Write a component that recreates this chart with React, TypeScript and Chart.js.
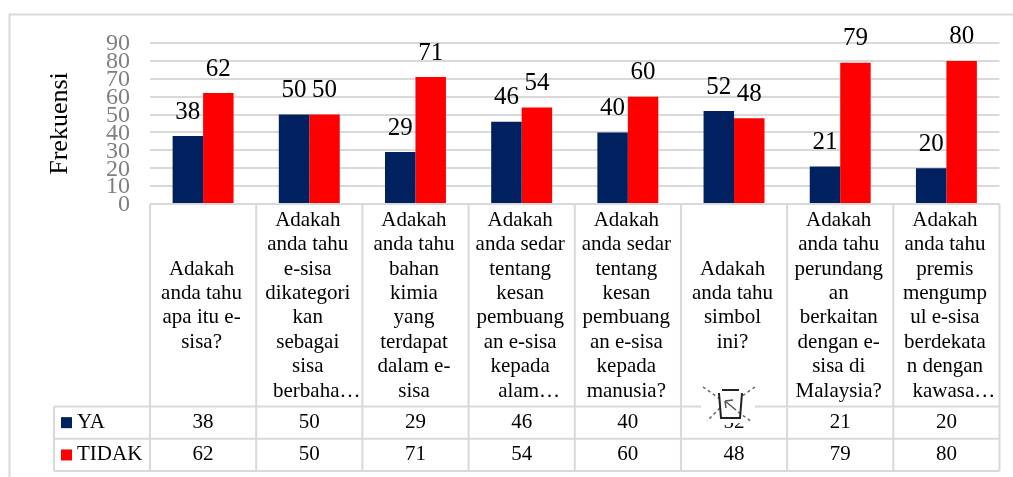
import React, { useEffect, useRef } from "react";
import { Chart, registerables } from "chart.js";

Chart.register(...registerables);

const categoryLines: string[][] = [
  ["Adakah", "anda tahu", "apa itu e-", "sisa?"],
  ["Adakah", "anda tahu", "e-sisa", "dikategori", "kan", "sebagai", "sisa", "berbaha…"],
  ["Adakah", "anda tahu", "bahan", "kimia", "yang", "terdapat", "dalam e-", "sisa"],
  ["Adakah", "anda sedar", "tentang", "kesan", "pembuang", "an e-sisa", "kepada", "alam…"],
  ["Adakah", "anda sedar", "tentang", "kesan", "pembuang", "an e-sisa", "kepada", "manusia?"],
  ["Adakah", "anda tahu", "simbol", "ini?"],
  ["Adakah", "anda tahu", "perundang", "an", "berkaitan", "dengan e-", "sisa di", "Malaysia?"],
  ["Adakah", "anda tahu", "premis", "mengump", "ul e-sisa", "berdekata", "n dengan", "kawasa…"],
];
const categories = categoryLines.map((l) => l.join(" "));
const ya = [38, 50, 29, 46, 40, 52, 21, 20];
const tidak = [62, 50, 71, 54, 60, 48, 79, 80];
const seriesNames = ["YA", "TIDAK"];
const seriesColors = ["#002060", "#FF0000"];
const yAxisTitle = "Frekuensi";

const SERIF = '"Liberation Serif", serif';
const GRID = "#d9d9d9";

const tickShiftPlugin = {
  id: "tickShift",
  beforeDraw(chart: any) {
    const s = chart.scales.y;
    if (s.__shifted) return;
    s.getLabelItems().forEach((it: any) => {
      it.options.translation[1] += 1;
    });
    s.__shifted = true;
  },
};

const tablePlugin = {
  id: "dataTable",
  afterDraw(chart: any) {
    const { ctx, chartArea, scales } = chart;
    const colW = scales.x.width / categories.length;
    const left = chartArea.left;
    const right = chartArea.right;
    const axisY = chartArea.bottom;
    const rowTop = 406.5;
    const rowH = 32.3;
    const tableLeft = 54;
    const tableBottom = rowTop + rowH * 2;

    ctx.save();
    // outer frame (cut off at the right and bottom of the picture)
    ctx.strokeStyle = GRID;
    ctx.lineWidth = 2;
    ctx.beginPath();
    ctx.moveTo(9.5, 477);
    ctx.lineTo(9.5, 14.5);
    ctx.lineTo(1013, 14.5);
    ctx.stroke();

    // table grid
    ctx.beginPath();
    for (let i = 0; i <= categories.length; i++) {
      const x = left + colW * i;
      ctx.moveTo(x, axisY);
      ctx.lineTo(x, tableBottom);
    }
    ctx.moveTo(left, axisY);
    ctx.lineTo(right, axisY);
    for (let r = 0; r <= 2; r++) {
      const y = rowTop + rowH * r;
      ctx.moveTo(tableLeft, y);
      ctx.lineTo(right, y);
    }
    ctx.moveTo(tableLeft, rowTop);
    ctx.lineTo(tableLeft, tableBottom);
    ctx.stroke();

    // category text
    ctx.fillStyle = "#000";
    ctx.textAlign = "center";
    ctx.textBaseline = "middle";
    ctx.font = `21px ${SERIF}`;
    const lh = 24.4;
    const midY = (axisY + rowTop) / 2 + 0.5;
    categoryLines.forEach((lines, i) => {
      const cx = left + colW * (i + 0.5) - 1.5;
      lines.forEach((t, j) => {
        const shift = t.endsWith("…") ? 9 : 0;
        ctx.fillText(t, cx + shift, midY + (j - (lines.length - 1) / 2) * lh);
      });
    });

    // table values and legend keys
    [ya, tidak].forEach((vals, r) => {
      const cy = rowTop + rowH * (r + 0.5);
      vals.forEach((v, i) => {
        ctx.fillText(String(v), left + colW * (i + 0.5), cy);
      });
      ctx.fillStyle = seriesColors[r];
      ctx.fillRect(61, cy - 5.5, 11, 11);
      ctx.fillStyle = "#000";
      ctx.textAlign = "left";
      ctx.fillText(seriesNames[r], 77, cy);
      ctx.textAlign = "center";
    });

    // crossed-out bin symbol overlapping the table
    ctx.fillStyle = "#fff";
    ctx.fillRect(701, 384, 54, 39);
    ctx.strokeStyle = "#666";
    ctx.lineWidth = 1.5;
    ctx.setLineDash([3, 3]);
    ctx.beginPath();
    ctx.moveTo(703, 387);
    ctx.lineTo(720, 399);
    ctx.moveTo(738, 412);
    ctx.lineTo(752, 422);
    ctx.moveTo(755, 387);
    ctx.lineTo(742, 396);
    ctx.moveTo(720, 408);
    ctx.lineTo(707, 421);
    ctx.stroke();
    ctx.setLineDash([]);
    ctx.strokeStyle = "#222";
    ctx.lineWidth = 2;
    ctx.beginPath();
    ctx.moveTo(722, 390);
    ctx.lineTo(739, 390);
    ctx.moveTo(719, 393);
    ctx.lineTo(721, 418);
    ctx.lineTo(740, 418);
    ctx.lineTo(742, 393);
    ctx.stroke();
    ctx.strokeStyle = "#555";
    ctx.lineWidth = 1.5;
    ctx.beginPath();
    ctx.moveTo(725, 401);
    ctx.lineTo(736, 410);
    ctx.moveTo(725, 401);
    ctx.lineTo(733, 400);
    ctx.moveTo(725, 401);
    ctx.lineTo(726, 408);
    ctx.stroke();
    ctx.restore();
  },
};

const labelPlugin = {
  id: "barLabels",
  afterDatasetsDraw(chart: any) {
    const { ctx } = chart;
    ctx.save();
    ctx.fillStyle = "#000";
    ctx.textAlign = "center";
    ctx.textBaseline = "middle";
    ctx.font = `25px ${SERIF}`;
    chart.data.datasets.forEach((ds: any, d: number) => {
      chart.getDatasetMeta(d).data.forEach((el: any, i: number) => {
        ctx.fillText(String(ds.data[i]), el.x, el.y - 24);
      });
    });
    ctx.restore();
  },
};

export default function App() {
  const ref = useRef<HTMLCanvasElement>(null);
  useEffect(() => {
    const chart = new Chart(ref.current!, {
      type: "bar",
      data: {
        labels: categories,
        datasets: [
          { label: seriesNames[0], data: ya, backgroundColor: seriesColors[0] },
          { label: seriesNames[1], data: tidak, backgroundColor: seriesColors[1] },
        ],
      },
      options: {
        animation: false,
        responsive: false,
        layout: { padding: { left: 44.5, right: 13.5, top: 43, bottom: 273 } },
        plugins: { legend: { display: false }, tooltip: { enabled: false } },
        datasets: { bar: { categoryPercentage: 0.574, barPercentage: 1 } },
        scales: {
          x: { display: false },
          y: {
            min: 0,
            max: 90,
            afterFit: (s: any) => {
              s.width = 105.5;
            },
            border: { display: false },
            grid: { color: GRID, lineWidth: 2, drawTicks: false },
            title: {
              display: true,
              text: yAxisTitle,
              color: "#000",
              font: { family: SERIF, size: 26 },
              padding: 0,
            },
            ticks: {
              stepSize: 10,
              autoSkip: false,
              padding: 20,
              color: "#7f7f7f",
              font: { family: SERIF, size: 24 },
            },
          },
        },
      },
      plugins: [tickShiftPlugin, tablePlugin, labelPlugin],
    } as any);
    return () => chart.destroy();
  }, []);
  return (
    <div style={{ position: "fixed", left: 0, top: 0, background: "#fff" }}>
      <canvas
        ref={ref}
        width={1013}
        height={477}
        style={{ display: "block", filter: "blur(0.4px)" }}
      />
    </div>
  );
}
